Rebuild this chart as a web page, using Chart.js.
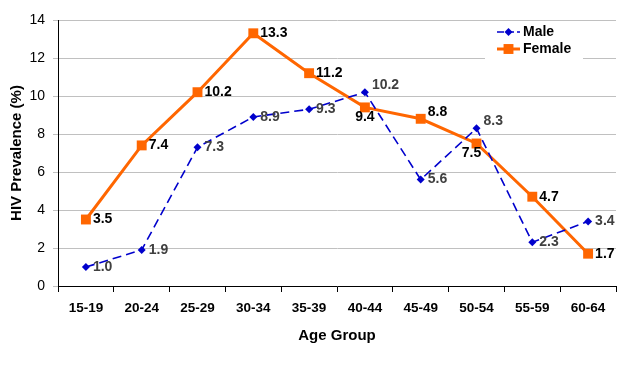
<!DOCTYPE html>
<html>
<head>
<meta charset="utf-8">
<script src="https://cdn.jsdelivr.net/npm/chart.js@4.4.1/dist/chart.umd.min.js"></script>
<style>
    html, body { margin: 0; padding: 0; background: #fff; }
    #wrap { width: 624px; height: 366px; }
</style>
</head>
<body>
<div id="wrap"><canvas id="graficoHiv" width="624" height="366"></canvas></div>
<script>
const faixas = ['15-19', '20-24', '25-29', '30-34', '35-39', '40-44', '45-49', '50-54', '55-59', '60-64'];
const masculino = [1.0, 1.9, 7.3, 8.9, 9.3, 10.2, 5.6, 8.3, 2.3, 3.4];
const feminino = [3.5, 7.4, 10.2, 13.3, 11.2, 9.4, 8.8, 7.5, 4.7, 1.7];
const ticksY = [0, 2, 4, 6, 8, 10, 12, 14];

// onde fica o rótulo de cada ponto: r = direita, ur = acima/direita, b = abaixo, bl = abaixo/esquerda
const posMasculino = ['r', 'r', 'r', 'r', 'r', 'ur', 'r', 'ur', 'r', 'r'];
const posFeminino = ['r', 'r', 'r', 'r', 'r', 'b', 'ur', 'bl', 'r', 'r'];

const corMasc = '#0000cc';
const corFem = '#ff6600';
const fonte = 'Arial, "Liberation Sans", sans-serif';

const rotulosPlugin = {
    id: 'rotulos',
    afterDatasetsDraw(chart) {
        const ctx = chart.ctx;
        ctx.save();
        ctx.font = `bold 14px ${fonte}`;
        ctx.textBaseline = 'middle';
        chart.data.datasets.forEach((ds, i) => {
            const meta = chart.getDatasetMeta(i);
            const posicoes = i === 0 ? posMasculino : posFeminino;
            ctx.fillStyle = i === 0 ? '#404040' : '#000';
            meta.data.forEach((pt, j) => {
                const txt = ds.data[j].toFixed(1);
                const p = posicoes[j];
                let x = pt.x, y = pt.y;
                if (p === 'r') { ctx.textAlign = 'left'; x += 7; }
                else if (p === 'ur') { ctx.textAlign = 'left'; x += 7; y -= 7; }
                else if (p === 'b') { ctx.textAlign = 'center'; y += 10; }
                else if (p === 'bl') { ctx.textAlign = 'center'; x -= 5; y += 10; }
                ctx.fillText(txt, x, y);
            });
        });
        ctx.restore();
    }
};

const legendaPlugin = {
    id: 'legendaManual',
    afterDraw(chart) {
        const ctx = chart.ctx;
        const h = Chart.helpers;
        ctx.save();
        ctx.fillStyle = '#fff';
        ctx.fillRect(485, 24, 98, 38);

        const itens = [
            { txt: 'Male', cor: corMasc, y: 32, largura: 1.5, dash: [7, 3], estilo: 'rectRot', raio: 4 },
            { txt: 'Female', cor: corFem, y: 49, largura: 3, dash: [], estilo: 'rect', raio: 7 }
        ];
        itens.forEach(it => {
            ctx.strokeStyle = it.cor;
            ctx.lineWidth = it.largura;
            ctx.setLineDash(it.dash);
            ctx.beginPath();
            ctx.moveTo(497, it.y);
            ctx.lineTo(520, it.y);
            ctx.stroke();
            ctx.setLineDash([]);
            ctx.fillStyle = it.cor;
            h.drawPoint(ctx, { pointStyle: it.estilo, radius: it.raio, borderWidth: 0 }, 508.5, it.y);
            ctx.fillStyle = '#000';
            ctx.font = `bold 14px ${fonte}`;
            ctx.textAlign = 'left';
            ctx.textBaseline = 'middle';
            ctx.fillText(it.txt, 523, it.y);
        });
        ctx.restore();
    }
};

const ctx = document.getElementById('graficoHiv').getContext('2d');

new Chart(ctx, {
    type: 'line',
    data: {
        labels: faixas,
        datasets: [
            {
                label: 'Male',
                data: masculino,
                borderColor: corMasc,
                backgroundColor: corMasc,
                borderWidth: 1.6,
                borderDash: [9, 5],
                pointStyle: 'rectRot',
                pointRadius: 4,
                pointBorderWidth: 0,
                tension: 0
            },
            {
                label: 'Female',
                data: feminino,
                borderColor: corFem,
                backgroundColor: corFem,
                borderWidth: 3,
                pointStyle: 'rect',
                pointRadius: 7,
                pointBorderWidth: 0,
                tension: 0
            }
        ]
    },
    options: {
        responsive: false,
        animation: false,
        layout: { padding: { top: 20, right: 8, left: 0, bottom: 0 } },
        plugins: {
            legend: { display: false },
            tooltip: { enabled: false }
        },
        scales: {
            x: {
                offset: true,
                grid: {
                    offset: true,
                    drawOnChartArea: false,
                    tickLength: 6,
                    color: '#000'
                },
                border: { color: '#000', width: 1 },
                ticks: {
                    color: '#000',
                    font: { family: fonte, size: 13.5, weight: 'bold' },
                    padding: 8,
                    maxRotation: 0
                },
                title: {
                    display: true,
                    text: 'Age Group',
                    color: '#000',
                    font: { family: fonte, size: 15, weight: 'bold' },
                    padding: { top: 0, bottom: 21 }
                },
                afterFit: s => { s.height = 80; }
            },
            y: {
                min: 0,
                max: 14,
                afterBuildTicks: s => { s.ticks = ticksY.map(v => ({ value: v })); },
                grid: { color: '#c0c0c0', tickLength: 5 },
                border: { color: '#000', width: 1 },
                ticks: {
                    color: '#000',
                    font: { family: fonte, size: 14 },
                    padding: 8
                },
                title: {
                    display: true,
                    text: 'HIV Prevalence (%)',
                    color: '#000',
                    font: { family: fonte, size: 15, weight: 'bold' },
                    padding: { top: 8, bottom: 0 }
                },
                afterFit: s => { s.width = 58; }
            }
        }
    },
    plugins: [rotulosPlugin, legendaPlugin]
});
</script>
</body>
</html>
